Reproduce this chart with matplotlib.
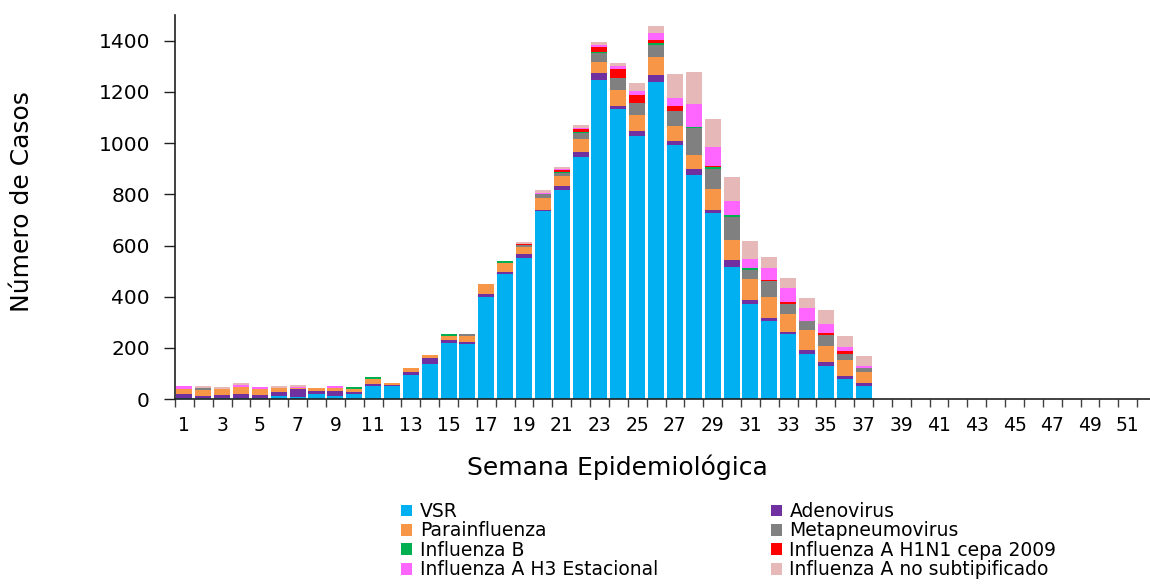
import numpy as np
import matplotlib
matplotlib.use("Agg")
import matplotlib.pyplot as plt
from matplotlib.patches import Patch

plt.rcParams['font.family'] = ['DejaVu Sans']

weeks = list(range(1, 38))
vsr = [5, 3, 6, 5, 5, 14, 9, 21, 14, 22, 51, 51, 96, 139, 221, 217, 400, 489, 552, 736,
       817, 947, 1248, 1134, 1029, 1240, 993, 877, 728, 517, 373, 306, 256, 178, 131, 80, 53]
adeno = [14, 9, 10, 16, 12, 14, 31, 12, 18, 8, 10, 6, 12, 20, 12, 8, 12, 8, 16, 4,
         16, 20, 27, 12, 20, 27, 16, 23, 12, 27, 16, 12, 8, 16, 16, 12, 12]
parainf = [22, 22, 23, 27, 23, 16, 3, 12, 10, 11, 16, 8, 12, 12, 12, 20, 39, 35, 27, 47,
           39, 47, 43, 62, 62, 70, 59, 55, 82, 78, 82, 82, 70, 78, 62, 62, 43]
metapneumo = [0, 11, 0, 0, 0, 0, 0, 0, 0, 0, 0, 0, 0, 0, 0, 8, 0, 0, 8, 16,
              12, 27, 33, 47, 47, 47, 59, 105, 78, 90, 35, 62, 39, 35, 43, 23, 12]
infb = [0, 0, 0, 0, 0, 0, 0, 0, 0, 8, 8, 0, 0, 0, 8, 0, 0, 8, 0, 0,
        4, 4, 3, 0, 0, 8, 0, 4, 8, 8, 8, 0, 0, 0, 0, 0, 0]
h1n1 = [0, 0, 0, 0, 0, 0, 0, 0, 0, 0, 0, 0, 0, 0, 0, 0, 0, 0, 4, 0,
        8, 8, 20, 35, 31, 12, 16, 0, 4, 0, 0, 4, 8, 0, 8, 12, 0]
h3 = [9, 0, 0, 8, 8, 0, 4, 0, 9, 0, 0, 0, 0, 0, 0, 0, 0, 0, 0, 4,
      4, 4, 8, 12, 16, 27, 31, 90, 74, 55, 35, 47, 55, 51, 35, 16, 8]
nosub = [0, 8, 8, 8, 0, 8, 7, 0, 0, 0, 0, 0, 0, 0, 0, 0, 0, 0, 8, 8,
         8, 12, 12, 12, 31, 27, 94, 125, 109, 94, 70, 43, 39, 39, 55, 43, 39]

series_names = ["VSR", "Adenovirus", "Parainfluenza", "Metapneumovirus",
                "Influenza B", "Influenza A H1N1 cepa 2009",
                "Influenza A H3 Estacional", "Influenza A no subtipificado"]
series_vals = [vsr, adeno, parainf, metapneumo, infb, h1n1, h3, nosub]
colors = ["#00B0F0", "#7030A0", "#F79646", "#808080",
          "#00B050", "#FF0000", "#FF66FF", "#E6B9B8"]

W, H = 1150, 584
fig = plt.figure(figsize=(W / 100, H / 100), dpi=100)
ax = fig.add_axes([175 / W, 1 - 399.2 / H, (1156 - 175) / W, (399.2 - 15) / H])

x = np.array(weeks)
bottom = np.zeros(len(weeks))
for name, vals, c in zip(series_names, series_vals, colors):
    v = np.array(vals, dtype=float)
    ax.bar(x, v, bottom=bottom, width=0.85, color=c, linewidth=0, label=name)
    bottom += v

ax.set_xlim(0.5, 52.5)
ax.set_ylim(0, 1500)
ax.set_yticks(np.arange(0, 1401, 200))
ax.set_xticks(np.arange(1, 53, 2))
ax.set_xticks(np.arange(0.5, 53, 1), minor=True)
ax.tick_params(axis='x', which='major', length=0, pad=12, labelsize=13.5)
ax.tick_params(axis='x', which='minor', length=6, width=1, color='#404040')
ax.tick_params(axis='y', which='major', length=8, width=1, pad=10, labelsize=14.5, color='#202020')
for s in ['top', 'right']:
    ax.spines[s].set_visible(False)
for s in ['left', 'bottom']:
    ax.spines[s].set_color('#202020')
    ax.spines[s].set_linewidth(1.2)

fig.text(617 / W, 1 - 467 / H, "Semana Epidemiológica", ha='center', va='center', fontsize=18)
fig.text(22 / W, 1 - 202 / H, "Número de Casos", ha='center', va='center', rotation=90, fontsize=18)

order = [0, 2, 4, 6, 1, 3, 5, 7]
handles = [Patch(facecolor=colors[i], edgecolor='none', label=series_names[i]) for i in order]
fig.legend(handles=handles, ncol=2, loc='upper left', bbox_to_anchor=(388 / W, 1 - 489 / H),
           frameon=False, fontsize=13.5, handlelength=0.6, handleheight=0.6,
           handletextpad=0.4, labelspacing=0.02, columnspacing=6.0, borderpad=0.2)

fig.savefig("out.png", dpi=100)
